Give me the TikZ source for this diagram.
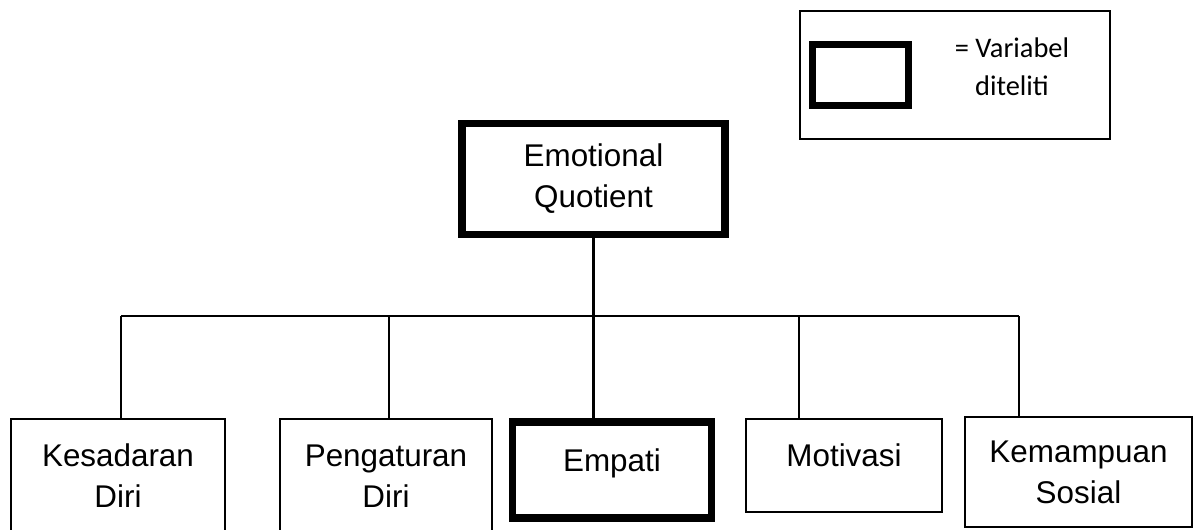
\documentclass[tikz,border=0pt]{standalone}
\usepackage{fontspec}
\setmainfont{Liberation Sans}
\newfontfamily\legendfont{Carlito}
\usetikzlibrary{positioning}

\begin{document}
\begin{tikzpicture}[
    x=0.5pt, y=-0.5pt,
    box/.style={
        rectangle,
        draw=black,
        line width=1.1pt,
        align=center,
        inner sep=0pt,
        font=\fontsize{15.7}{20.5}\selectfont
    },
    studied/.style={
        box,
        line width=3.6pt
    },
    link/.style={
        line width=1.1pt,
        draw=black
    }
]

\clip (0,0) rectangle (1195,530);

% Legend
\node[box, minimum width=155pt, minimum height=64pt] (legend) at (955,75) {};
\node[studied, minimum width=48pt, minimum height=30.5pt] (key) at (860.5,75) {};
\node[align=center, font=\legendfont\fontsize{14.2}{19}\selectfont] (keytext) at (1012,67) {= Variabel\\diteliti};

% Main variable
\node[studied, minimum width=131.5pt, minimum height=55.5pt] (eq) at (593.5,179) {Emotional\\Quotient};

% Components
\node[box, minimum width=107pt, minimum height=57pt] (kesadaran) at (118,476) {Kesadaran\\Diri};
\node[box, minimum width=106pt, minimum height=57pt] (pengaturan) at (386,476) {Pengaturan\\Diri};
\node[studied, minimum width=99.5pt, minimum height=48pt, text depth=10pt] (empati) at (612,470) {Empati};
\node[box, minimum width=98pt, minimum height=46.5pt, text depth=10pt] (motivasi) at (844,465.5) {Motivasi};
\node[box, minimum width=113.5pt, minimum height=55pt] (kemampuan) at (1078.5,472) {Kemampuan\\Sosial};

% Branch points
\coordinate (b1) at (121,316);
\coordinate (b2) at (389,316);
\coordinate (b4) at (799,316);
\coordinate (b5) at (1019,316);

% Connectors
\draw[link] (eq.south) -- (eq.south |- empati.north);
\draw[link] (b1) -- (b5);
\draw[link] (b1) -- (b1 |- kesadaran.north);
\draw[link] (b2) -- (b2 |- pengaturan.north);
\draw[link] (b4) -- (b4 |- motivasi.north);
\draw[link] (b5) -- (b5 |- kemampuan.north);

\end{tikzpicture}
\end{document}
